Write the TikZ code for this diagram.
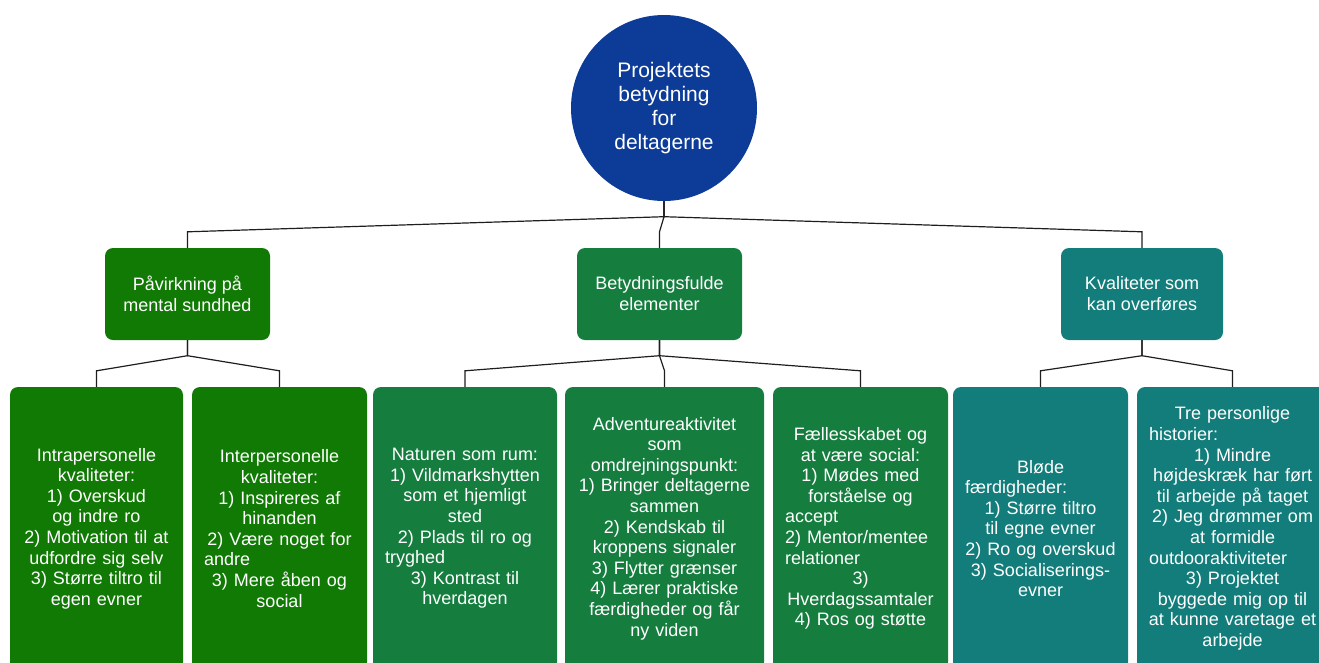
\documentclass[tikz,border=0pt]{standalone}
\usepackage{fontspec}
\setmainfont{Liberation Sans}
\definecolor{rootblue}{RGB}{12,60,152}
\definecolor{mentalgreen}{RGB}{16,122,4}
\definecolor{elemgreen}{RGB}{21,126,63}
\definecolor{transteal}{RGB}{18,125,122}
\definecolor{linkgray}{RGB}{30,30,30}
% a line set flush left inside a centred text block
\newcommand\lftrow[1]{\makebox[\linewidth][l]{#1}}
% a centred line that is never broken
\newcommand\ctrrow[1]{\makebox[\linewidth][c]{#1}}
% connector from a parent box to one of its children
\newcommand\treelink[2]{%
  \draw[link] (#1.south) -- ([yshift=-15.5pt]#1.south) -- ([yshift=16pt]#2.north) -- (#2.north);}
\tikzset{
  rootnode/.style={circle, fill=rootblue, text=white, minimum size=186pt, inner sep=0pt,
    align=center, font=\fontsize{21}{24}\selectfont},
  midbox/.style={rounded corners=8pt, text=white, minimum width=165pt, minimum height=92pt,
    inner sep=0pt, align=center, font=\fontsize{18}{21}\selectfont},
  leafbox/.style={rounded corners=8pt, text=white, minimum height=283pt, inner xsep=12pt,
    inner ysep=0pt, text width=#1-24pt, align=center, font=\fontsize{18}{20.6}\selectfont},
  link/.style={draw=linkgray, line width=1.2pt},
}
\begin{document}
\begin{tikzpicture}[x=1pt, y=-1pt]
\useasboundingbox (0,0) rectangle (1319,662);
\begin{scope}
\clip (0,0) rectangle (1319,662);

% root
\node[rootnode] (root) at (664,108) {Projektets\\betydning\\for\\deltagerne};

% second level
\node[midbox, fill=mentalgreen] (mental) at (187.5,294) {Påvirkning på\\mental sundhed};
\node[midbox, fill=elemgreen] (elem) at (659.5,294) {Betydningsfulde\\elementer};
\node[midbox, fill=transteal, minimum width=162pt] (trans) at (1142,294) {Kvaliteter som\\kan overføres};

% third level
\node[leafbox=173pt, fill=mentalgreen] (intra) at (96.5,528.5)
  {Intrapersonelle\\kvaliteter:\\1) Overskud\\og indre ro\\2) Motivation til at\\udfordre sig selv\\3) Større tiltro til\\egen evner};
\node[leafbox=175pt, fill=mentalgreen] (inter) at (279.5,528.5)
  {Interpersonelle\\kvaliteter:\\1) Inspireres af\\hinanden\\2) Være noget for\\\lftrow{andre}\\3) Mere åben og\\social};
\node[leafbox=184pt, fill=elemgreen] (natur) at (465,528.5)
  {Naturen som rum:\\1) Vildmarkshytten\\som et hjemligt\\sted\\2) Plads til ro og\\\lftrow{tryghed}\\3) Kontrast til\\hverdagen};
\node[leafbox=199pt, fill=elemgreen] (adv) at (664.5,528.5)
  {Adventureaktivitet\\som\\omdrejningspunkt:\\1) Bringer deltagerne\\sammen\\2) Kendskab til\\kroppens signaler\\3) Flytter grænser\\4) Lærer praktiske\\færdigheder og får\\ny viden};
\node[leafbox=175pt, fill=elemgreen] (faell) at (860.5,528.5)
  {Fællesskabet og\\at være social:\\1) Mødes med\\forståelse og\\\lftrow{accept}\\\lftrow{2) Mentor/mentee}\\\lftrow{relationer}\\3)\\\ctrrow{Hverdagssamtaler}\\4) Ros og støtte};
\node[leafbox=175pt, fill=transteal] (blod) at (1040.5,528.5)
  {Bløde\\\lftrow{færdigheder:}\\1) Større tiltro\\til egne evner\\2) Ro og overskud\\3) Socialiserings-\\evner};
\node[leafbox=191pt, fill=transteal] (hist) at (1232.5,528.5)
  {Tre personlige\\\lftrow{historier:}\\1) Mindre\\\ctrrow{højdeskræk har ført}\\\ctrrow{til arbejde på taget}\\2) Jeg drømmer om\\at formidle\\\lftrow{outdooraktiviteter}\\3) Projektet\\\ctrrow{byggede mig op til}\\\ctrrow{at kunne varetage et}\\arbejde};

% connectors
\treelink{root}{mental}
\treelink{root}{elem}
\treelink{root}{trans}
\treelink{mental}{intra}
\treelink{mental}{inter}
\treelink{elem}{natur}
\treelink{elem}{adv}
\treelink{elem}{faell}
\treelink{trans}{blod}
\treelink{trans}{hist}
\end{scope}
\end{tikzpicture}
\end{document}
